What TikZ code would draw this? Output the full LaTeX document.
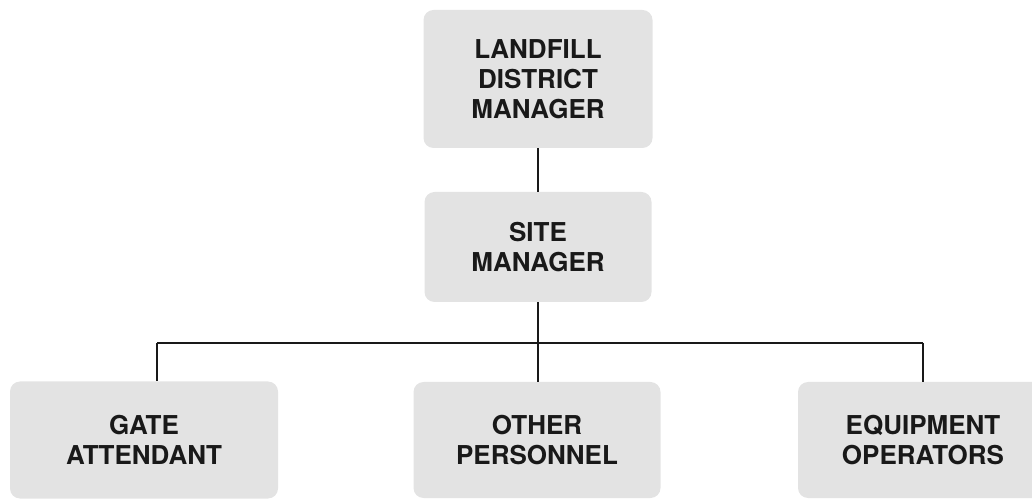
\documentclass[tikz,border=0pt]{standalone}
\usepackage{fontspec}
\setmainfont{TeX Gyre Heros}
\usepackage{tikz}
\definecolor{boxcolor}{gray}{0.89}
\definecolor{inkcolor}{gray}{0.1}
\tikzset{orgbox/.style={shape=rectangle,fill=boxcolor,rounded corners=10pt,align=center,text=inkcolor,inner sep=0pt,font=\fontsize{26}{30}\selectfont\bfseries}}
\tikzset{orgline/.style={draw=inkcolor,line width=1.4pt}}

\begin{document}
\begin{tikzpicture}[x=1pt,y=1pt]
		\clip (0,0) rectangle (1032,503);
		%
		\node[orgbox,minimum width=229pt,minimum height=138pt] (dm) at (538,424) {LANDFILL\\DISTRICT\\MANAGER};
		\node[orgbox,minimum width=227pt,minimum height=110pt] (sm) at (538,256) {SITE\\MANAGER};
		\node[orgbox,minimum width=268pt,minimum height=117pt] (ga) at (144,63) {GATE\\ATTENDANT};
		\node[orgbox,minimum width=247pt,minimum height=116pt] (op) at (537,63) {OTHER\\PERSONNEL};
		\node[orgbox,minimum width=250pt,minimum height=116pt] (eq) at (923,63) {EQUIPMENT\\OPERATORS};
		%
		\coordinate (bus) at (538,160);
		\coordinate (busl) at (157,160);
		\coordinate (busr) at (923,160);
		%
		\draw [orgline] (dm) -- (sm);
		\draw [orgline] (sm) -- (bus);
		\draw [orgline] (busl) -- (busr);
		\draw [orgline] (busl) -- (ga.north -| busl);
		\draw [orgline] (bus) -- (op.north -| bus);
		\draw [orgline] (busr) -- (eq.north -| busr);
	\end{tikzpicture}
\end{document}
